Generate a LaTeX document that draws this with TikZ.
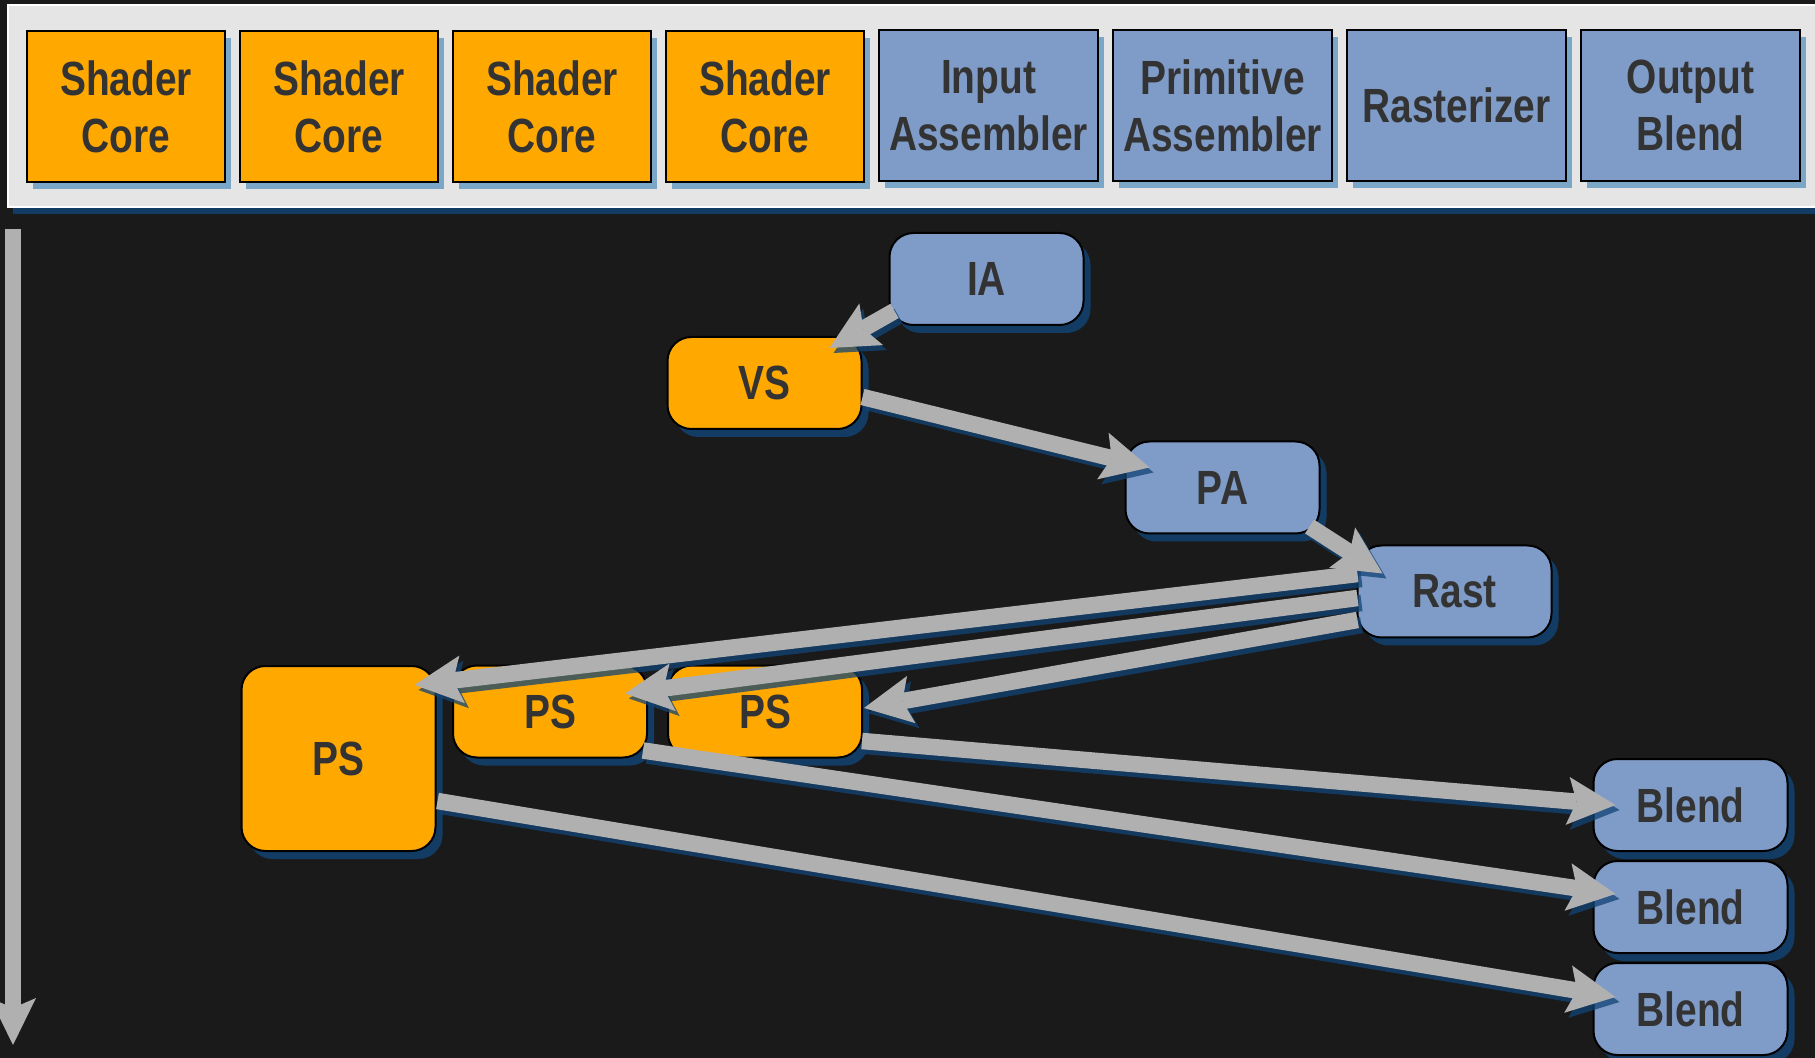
\documentclass[tikz,border=0pt]{standalone}
\usepackage{fontspec}
\setmainfont{Liberation Sans}[FakeStretch=0.81]
\usetikzlibrary{arrows.meta,shadows,calc}
\definecolor{bg}{RGB}{26,26,26}
\definecolor{panelc}{RGB}{229,229,229}
\definecolor{orangec}{RGB}{255,168,0}
\definecolor{bluec}{RGB}{127,155,199}
\definecolor{txt}{RGB}{51,51,51}
\definecolor{navy}{RGB}{18,60,100}
\definecolor{arrsh}{RGB}{17,68,118}
\definecolor{lightsh}{RGB}{122,166,200}
\definecolor{arrc}{RGB}{176,176,176}
\newcommand\myarrowsh[2]{\draw[connsh, transform canvas={xshift=2pt,yshift=-2.5pt}] #1 -- #2;}
\newcommand\myarrow[2]{\draw[conn] #1 -- #2;}
\begin{document}
\begin{tikzpicture}[x=0.5pt,y=-0.5pt,
  lbl/.style={font=\fontsize{24}{28.5}\selectfont\bfseries, text=txt, align=center, inner sep=0pt, outer sep=0pt},
  topbox/.style={lbl, draw=black, line width=1.25pt, minimum height=75.5pt,
     drop shadow={shadow xshift=3pt, shadow yshift=-3.5pt, fill=lightsh, opacity=1}},
  corebox/.style={topbox, fill=orangec, minimum width=99pt},
  unitbox/.style={topbox, fill=bluec, minimum width=109.5pt},
  stage/.style={lbl, draw=black, line width=1pt, rounded corners=12pt, minimum width=97pt, minimum height=46pt,
     drop shadow={shadow xshift=3.5pt, shadow yshift=-4pt, fill=navy, opacity=1}},
  ostage/.style={stage, fill=orangec},
  bstage/.style={stage, fill=bluec},
  conn/.style={draw=arrc, line width=8.25pt, -{Stealth[length=24pt,width=24pt,inset=4.5pt,line width=0pt]}},
  connsh/.style={conn, draw=arrsh, opacity=0.75}
]
\useasboundingbox (0,0) rectangle (1815,1058);
\fill[bg] (0,0) rectangle (1815,1058);
% top panel
\fill[navy] (13,206) rectangle (1815,214);
\draw[fill=panelc, draw=white, line width=1pt] (8,5) rectangle (1830,207);
\node[corebox] (c1) at (126,106.5) {Shader\\Core};
\node[corebox] (c2) at (339,106.5) {Shader\\Core};
\node[corebox] (c3) at (552,106.5) {Shader\\Core};
\node[corebox] (c4) at (765,106.5) {Shader\\Core};
\node[unitbox] (u1) at (988.5,105.5) {Input\\Assembler};
\node[unitbox] (u2) at (1222.5,105.5) {Primitive\\Assembler};
\node[unitbox] (u3) at (1456.5,105.5) {Rasterizer};
\node[unitbox] (u4) at (1690.5,105.5) {Output\\Blend};
% time arrow
\coordinate (t0) at (13,229);
\coordinate (t1) at (13,1045);
\draw[draw=arrc, line width=8pt, -{Stealth[length=23.5pt,width=23pt,inset=5pt,line width=0pt]}] (t0) -- (t1);
% pipeline nodes
\node[bstage] (IA) at (986.5,279) {IA};
\node[ostage] (VS) at (764.5,383) {VS};
\node[bstage] (PA) at (1222.5,487.5) {PA};
\node[bstage] (Rast) at (1454.5,591.5) {Rast};
\node[ostage, minimum height=92.5pt] (bigPS) at (338.5,758.5) {PS};
\node[ostage] (PS1) at (550,711.5) {PS};
\node[ostage] (PS2) at (765,711.5) {PS};
\node[bstage] (B1) at (1690.5,805) {Blend};
\node[bstage] (B2) at (1690.5,907) {Blend};
\node[bstage] (B3) at (1690.5,1009) {Blend};
% connector shadows
\myarrowsh{($(IA.south west)+(5,-14)$)}{($(VS.north east)+(-32,11)$)}
\myarrowsh{($(VS.east)+(1,14)$)}{($(PA.west)+(24,-20)$)}
\myarrowsh{($(PA.south east)+(-10,-7)$)}{($(Rast.north west)+(25,28)$)}
\myarrowsh{($(Rast.west)+(0,-17.5)$)}{($(bigPS.north east)+(-21,19)$)}
\myarrowsh{($(Rast.west)+(0,6.5)$)}{($(PS1.north east)+(-22,28)$)}
\myarrowsh{($(Rast.west)+(0,28.5)$)}{($(PS2.east)+(2,-3.5)$)}
\myarrowsh{($(PS2.east)+(0,29.5)$)}{($(B1.west)+(22,0)$)}
\myarrowsh{($(PS1.south east)+(-4,-7)$)}{($(B2.west)+(22,-13)$)}
\myarrowsh{($(bigPS.east)+(2,42.5)$)}{($(B3.west)+(22,-12)$)}
% connectors
\myarrow{($(IA.south west)+(5,-14)$)}{($(VS.north east)+(-32,11)$)}
\myarrow{($(VS.east)+(1,14)$)}{($(PA.west)+(24,-20)$)}
\myarrow{($(PA.south east)+(-10,-7)$)}{($(Rast.north west)+(25,28)$)}
\myarrow{($(Rast.west)+(0,-17.5)$)}{($(bigPS.north east)+(-21,19)$)}
\myarrow{($(Rast.west)+(0,6.5)$)}{($(PS1.north east)+(-22,28)$)}
\myarrow{($(Rast.west)+(0,28.5)$)}{($(PS2.east)+(2,-3.5)$)}
\myarrow{($(PS2.east)+(0,29.5)$)}{($(B1.west)+(22,0)$)}
\myarrow{($(PS1.south east)+(-4,-7)$)}{($(B2.west)+(22,-13)$)}
\myarrow{($(bigPS.east)+(2,42.5)$)}{($(B3.west)+(22,-12)$)}
\end{tikzpicture}
\end{document}
